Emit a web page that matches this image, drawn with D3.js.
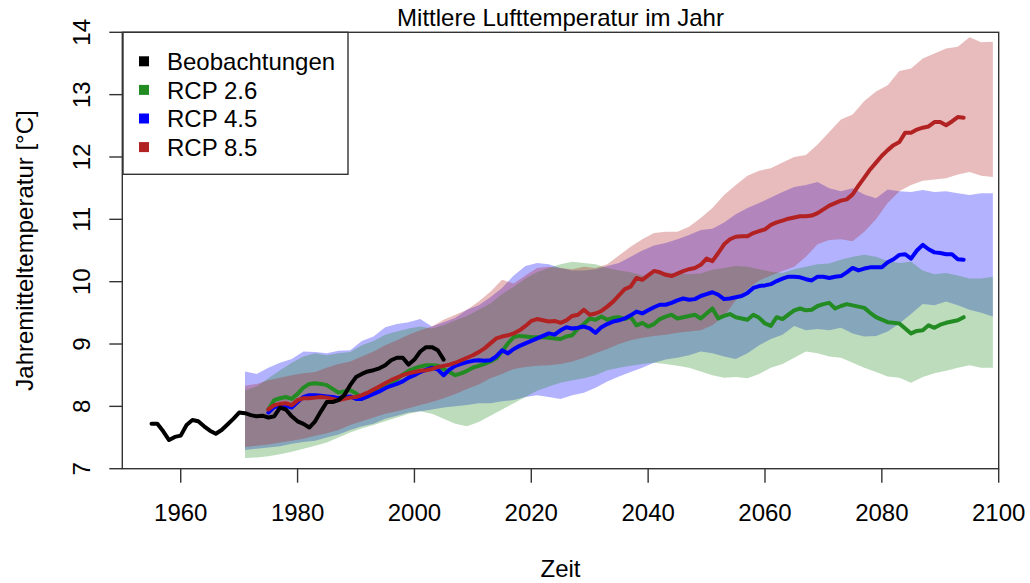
<!DOCTYPE html>
<html>
<head>
<meta charset="utf-8">
<script src="https://cdn.jsdelivr.net/npm/d3@7"></script>
<style>
  html, body { margin: 0; padding: 0; background: #fff; overflow: hidden; }
  svg { display: block; font-family: "Liberation Sans", Arial, sans-serif; }
</style>
</head>
<body>
<div id="chart"></div>
<script>
// observations, yearly from 1955
const obsStart = 1955;
const obsValues = [7.72, 7.72, 7.60, 7.46, 7.51, 7.53, 7.70, 7.78, 7.76, 7.68,
  7.61, 7.56, 7.62, 7.71, 7.80, 7.90, 7.89, 7.86, 7.84, 7.85,
  7.82, 7.84, 7.98, 7.95, 7.84, 7.76, 7.72, 7.66, 7.76, 7.92,
  8.07, 8.07, 8.10, 8.18, 8.34, 8.47, 8.52, 8.56, 8.58, 8.61,
  8.66, 8.74, 8.78, 8.78, 8.67, 8.75, 8.88, 8.95, 8.95, 8.90, 8.75];

// ensemble means, yearly from 1975
const meanStart = 1975;
const rcp26Mean = [7.95, 8.10, 8.13, 8.15, 8.12, 8.20, 8.30, 8.36, 8.37, 8.36,
  8.34, 8.28, 8.22, 8.24, 8.26, 8.21, 8.13, 8.16, 8.24, 8.29,
  8.35, 8.38, 8.43, 8.51, 8.57, 8.61, 8.64, 8.66, 8.66, 8.65,
  8.60, 8.55, 8.50, 8.53, 8.57, 8.62, 8.65, 8.68, 8.72, 8.77,
  8.88, 9.01, 9.11, 9.13, 9.12, 9.11, 9.11, 9.11, 9.10, 9.09,
  9.08, 9.12, 9.14, 9.25, 9.32, 9.41, 9.39, 9.44, 9.39, 9.42,
  9.43, 9.40, 9.44, 9.30, 9.34, 9.28, 9.32, 9.40, 9.44, 9.47,
  9.41, 9.43, 9.45, 9.47, 9.41, 9.49, 9.57, 9.41, 9.45, 9.48,
  9.43, 9.41, 9.39, 9.47, 9.42, 9.33, 9.29, 9.43, 9.40, 9.47,
  9.54, 9.57, 9.54, 9.55, 9.61, 9.64, 9.66, 9.57, 9.61, 9.64,
  9.62, 9.60, 9.58, 9.50, 9.43, 9.39, 9.35, 9.34, 9.33, 9.25,
  9.17, 9.21, 9.22, 9.30, 9.26, 9.31, 9.34, 9.36, 9.38, 9.43];
const rcp45Mean = [7.90, 7.99, 8.00, 8.01, 7.98, 8.07, 8.15, 8.18, 8.18, 8.17,
  8.16, 8.15, 8.13, 8.15, 8.16, 8.12, 8.12, 8.16, 8.20, 8.24,
  8.29, 8.33, 8.36, 8.40, 8.46, 8.50, 8.55, 8.59, 8.62, 8.59,
  8.50, 8.59, 8.65, 8.68, 8.71, 8.73, 8.74, 8.73, 8.74, 8.80,
  8.90, 8.85, 8.92, 8.97, 9.01, 9.05, 9.09, 9.13, 9.17, 9.15,
  9.22, 9.27, 9.25, 9.26, 9.28, 9.25, 9.18, 9.27, 9.32, 9.36,
  9.38, 9.41, 9.46, 9.52, 9.49, 9.54, 9.59, 9.63, 9.63, 9.66,
  9.70, 9.73, 9.71, 9.72, 9.77, 9.80, 9.83, 9.79, 9.72, 9.73,
  9.75, 9.77, 9.82, 9.90, 9.93, 9.94, 9.96, 10.01, 10.05, 10.08,
  10.08, 10.07, 10.04, 10.02, 10.08, 10.08, 10.06, 10.08, 10.09, 10.15,
  10.22, 10.18, 10.21, 10.23, 10.23, 10.23, 10.31, 10.36, 10.43, 10.44,
  10.37, 10.50, 10.59, 10.52, 10.47, 10.46, 10.44, 10.44, 10.36, 10.35];
const rcp85Mean = [7.95, 8.02, 8.04, 8.05, 8.02, 8.10, 8.13, 8.13, 8.14, 8.15,
  8.14, 8.12, 8.10, 8.12, 8.14, 8.15, 8.18, 8.22, 8.27, 8.32,
  8.37, 8.42, 8.46, 8.50, 8.53, 8.55, 8.57, 8.58, 8.60, 8.63,
  8.65, 8.67, 8.70, 8.74, 8.78, 8.82, 8.87, 8.93, 9.01, 9.09,
  9.12, 9.14, 9.17, 9.22, 9.29, 9.37, 9.40, 9.38, 9.36, 9.37,
  9.34, 9.38, 9.45, 9.47, 9.55, 9.47, 9.49, 9.53, 9.60, 9.68,
  9.78, 9.88, 9.92, 10.06, 10.03, 10.10, 10.17, 10.15, 10.11, 10.09,
  10.13, 10.17, 10.20, 10.22, 10.27, 10.37, 10.33, 10.46, 10.60, 10.68,
  10.72, 10.73, 10.73, 10.78, 10.81, 10.84, 10.91, 10.95, 10.98, 11.01,
  11.03, 11.05, 11.05, 11.06, 11.10, 11.16, 11.22, 11.26, 11.30, 11.32,
  11.40, 11.54, 11.67, 11.80, 11.91, 12.02, 12.11, 12.19, 12.24, 12.39,
  12.39, 12.44, 12.47, 12.49, 12.56, 12.56, 12.51, 12.57, 12.64, 12.63];

// ensemble ranges, every second year from 1971 to 2099
const bandStart = 1971;
const bandStep = 2;
const rcp26Low = [7.17, 7.18, 7.20, 7.23, 7.27, 7.32, 7.37, 7.42, 7.50, 7.58,
  7.65, 7.70, 7.76, 7.82, 7.88, 7.92, 7.88, 7.80, 7.72, 7.68,
  7.75, 7.85, 7.95, 8.05, 8.15, 8.25, 8.32, 8.38, 8.42, 8.45,
  8.50, 8.58, 8.62, 8.65, 8.68, 8.70, 8.68, 8.65, 8.62, 8.56,
  8.50, 8.46, 8.47, 8.45, 8.52, 8.62, 8.68, 8.78, 8.88, 8.85,
  8.80, 8.78, 8.70, 8.62, 8.55, 8.48, 8.46, 8.38, 8.47, 8.53,
  8.57, 8.62, 8.66, 8.62, 8.62];
const rcp26High = [8.26, 8.32, 8.45, 8.58, 8.70, 8.80, 8.85, 8.82, 8.85, 8.87,
  8.98, 9.05, 9.15, 9.20, 9.25, 9.28, 9.25, 9.30, 9.38, 9.45,
  9.55, 9.65, 9.80, 9.92, 10.05, 10.15, 10.22, 10.28, 10.32, 10.30,
  10.28, 10.22, 10.18, 10.15, 10.10, 10.12, 10.15, 10.13, 10.12, 10.13,
  10.19, 10.22, 10.25, 10.24, 10.20, 10.16, 10.14, 10.20, 10.24, 10.28,
  10.29, 10.35, 10.40, 10.43, 10.40, 10.33, 10.30, 10.32, 10.18, 10.12,
  10.14, 10.10, 10.05, 10.05, 10.08];
const rcp45Low = [7.30, 7.32, 7.34, 7.36, 7.40, 7.43, 7.45, 7.50, 7.55, 7.62,
  7.68, 7.72, 7.80, 7.85, 7.90, 7.92, 7.95, 7.98, 8.00, 8.02,
  8.05, 8.05, 8.08, 8.10, 8.15, 8.18, 8.15, 8.12, 8.18, 8.22,
  8.30, 8.40, 8.48, 8.55, 8.62, 8.70, 8.75, 8.78, 8.82, 8.88,
  8.85, 8.80, 8.76, 8.85, 8.98, 9.08, 9.15, 9.29, 9.22, 9.24,
  9.22, 9.26, 9.17, 9.12, 9.13, 9.20, 9.33, 9.48, 9.64, 9.62,
  9.68, 9.62, 9.55, 9.50, 9.44];
const rcp45High = [8.56, 8.52, 8.62, 8.70, 8.76, 8.88, 8.87, 8.85, 8.89, 8.90,
  9.05, 9.12, 9.27, 9.32, 9.35, 9.40, 9.28, 9.35, 9.42, 9.55,
  9.62, 9.75, 9.90, 10.10, 10.25, 10.30, 10.28, 10.22, 10.18, 10.18,
  10.20, 10.25, 10.30, 10.40, 10.50, 10.58, 10.62, 10.68, 10.75, 10.83,
  10.85, 10.95, 11.08, 11.18, 11.26, 11.35, 11.44, 11.52, 11.55, 11.60,
  11.50, 11.45, 11.50, 11.40, 11.34, 11.48, 11.45, 11.44, 11.47, 11.44,
  11.45, 11.42, 11.39, 11.42, 11.42];
const rcp85Low = [7.35, 7.37, 7.39, 7.42, 7.45, 7.48, 7.53, 7.57, 7.62, 7.70,
  7.76, 7.82, 7.88, 7.92, 7.97, 8.02, 8.07, 8.13, 8.20, 8.28,
  8.35, 8.45, 8.52, 8.60, 8.63, 8.65, 8.66, 8.68, 8.72, 8.78,
  8.85, 8.92, 9.00, 9.06, 9.10, 9.13, 9.15, 9.18, 9.20, 9.22,
  9.30, 9.45, 9.70, 9.88, 10.02, 10.10, 10.17, 10.24, 10.40, 10.60,
  10.67, 10.68, 10.65, 10.80, 11.00, 11.26, 11.45, 11.55, 11.62, 11.64,
  11.66, 11.72, 11.76, 11.70, 11.68];
const rcp85High = [8.33, 8.36, 8.42, 8.46, 8.50, 8.53, 8.55, 8.62, 8.68, 8.72,
  8.80, 8.88, 8.98, 9.06, 9.15, 9.22, 9.28, 9.39, 9.47, 9.55,
  9.68, 9.84, 10.03, 9.97, 10.10, 10.22, 10.24, 10.22, 10.20, 10.24,
  10.22, 10.28, 10.42, 10.56, 10.68, 10.78, 10.80, 10.80, 10.88, 11.02,
  11.18, 11.39, 11.55, 11.70, 11.78, 11.82, 11.91, 12.00, 12.03, 12.20,
  12.40, 12.60, 12.68, 12.90, 13.05, 13.15, 13.38, 13.42, 13.58, 13.66,
  13.74, 13.77, 13.92, 13.84, 13.85];

const xTicks = [1960, 1980, 2000, 2020, 2040, 2060, 2080, 2100];
const yTicks = [7, 8, 9, 10, 11, 12, 13, 14];
const legendLabels = ["Beobachtungen", "RCP 2.6", "RCP 4.5", "RCP 8.5"];
const legendColors = ["#000000", "#228B22", "#0000FF", "#B22222"];

const width = 1030;
const height = 583;
const margin = { top: 32.3, right: 31.3, bottom: 114.3, left: 122.3 };
const innerWidth = width - margin.left - margin.right;
const innerHeight = height - margin.top - margin.bottom;

const svg = d3.select("#chart")
  .append("svg")
  .attr("width", width)
  .attr("height", height)
  .attr("viewBox", `0 0 ${width} ${height}`);

const chart = svg.append("g")
  .attr("transform", `translate(${margin.left},${margin.top})`);

const x = d3.scaleLinear().domain([1950, 2100]).range([0, innerWidth]);
const y = d3.scaleLinear().domain([7, 14]).range([innerHeight, 0]);

const toSeries = (start, step, values) => values.map((v, i) => ({ year: start + i * step, v }));
const toBand = (low, high) => low.map((lo, i) => ({ year: bandStart + i * bandStep, lo, hi: high[i] }));

const area = d3.area()
  .x((d) => x(d.year))
  .y0((d) => y(d.lo))
  .y1((d) => y(d.hi));

const line = d3.line()
  .x((d) => x(d.year))
  .y((d) => y(d.v));

// centre a text on cx by its measured length (start anchor)
function centreText(sel, cx) {
  sel.attr("x", function () {
    return cx - this.getComputedTextLength() / 2;
  });
}

// ensemble ranges: blue first, green over it, red on top
const bands = [
  { data: toBand(rcp45Low, rcp45High), fill: "rgba(0,0,255,0.3)" },
  { data: toBand(rcp26Low, rcp26High), fill: "rgba(34,139,34,0.3)" },
  { data: toBand(rcp85Low, rcp85High), fill: "rgba(178,34,34,0.3)" }
];

bands.forEach((b) => {
  chart.append("path")
    .datum(b.data)
    .attr("d", area)
    .attr("fill", b.fill)
    .attr("stroke", "none");
});

const lines = [
  { data: toSeries(meanStart, 1, rcp26Mean), color: "#228B22" },
  { data: toSeries(meanStart, 1, rcp45Mean), color: "#0000FF" },
  { data: toSeries(meanStart, 1, rcp85Mean), color: "#B22222" },
  { data: toSeries(obsStart, 1, obsValues), color: "#000000" }
];

lines.forEach((l) => {
  chart.append("path")
    .datum(l.data)
    .attr("d", line)
    .attr("fill", "none")
    .attr("stroke", l.color)
    .attr("stroke-width", 4)
    .attr("stroke-linejoin", "round")
    .attr("stroke-linecap", "round");
});

// box
chart.append("rect")
  .attr("x", 0)
  .attr("y", 0)
  .attr("width", innerWidth)
  .attr("height", innerHeight)
  .attr("fill", "none")
  .attr("stroke", "#333")
  .attr("stroke-width", 1.4);

// x axis
const xAxis = svg.append("g");
xAxis.selectAll("line")
  .data(xTicks)
  .enter()
  .append("line")
  .attr("x1", (d) => margin.left + x(d))
  .attr("x2", (d) => margin.left + x(d))
  .attr("y1", margin.top + innerHeight)
  .attr("y2", margin.top + innerHeight + 14)
  .attr("stroke", "#333")
  .attr("stroke-width", 1.4);
xAxis.selectAll("text")
  .data(xTicks)
  .enter()
  .append("text")
  .attr("y", margin.top + innerHeight + 52.5)
  .attr("font-size", 24)
  .text((d) => d)
  .each(function (d) {
    centreText(d3.select(this), margin.left + x(d));
  });

// y axis, labels turned like R's las = 0
const yAxis = svg.append("g");
yAxis.selectAll("line")
  .data(yTicks)
  .enter()
  .append("line")
  .attr("x1", margin.left - 13)
  .attr("x2", margin.left)
  .attr("y1", (d) => margin.top + y(d))
  .attr("y2", (d) => margin.top + y(d))
  .attr("stroke", "#333")
  .attr("stroke-width", 1.4);
yAxis.selectAll("text")
  .data(yTicks)
  .enter()
  .append("text")
  .attr("x", 90)
  .attr("y", (d) => margin.top + y(d))
  .attr("transform", (d) => `rotate(-90, 90, ${margin.top + y(d)})`)
  .attr("text-anchor", "middle")
  .attr("font-size", 24)
  .text((d) => d);

// titles
svg.append("text")
  .attr("y", 26)
  .attr("font-size", 24)
  .text("Mittlere Lufttemperatur im Jahr")
  .call(centreText, margin.left + innerWidth / 2);

svg.append("text")
  .attr("y", 577)
  .attr("font-size", 24)
  .text("Zeit")
  .call(centreText, margin.left + innerWidth / 2);

const yTitleY = margin.top + innerHeight / 2;
svg.append("text")
  .attr("x", 33)
  .attr("y", yTitleY)
  .attr("transform", `rotate(-90, 33, ${yTitleY})`)
  .attr("text-anchor", "middle")
  .attr("font-size", 24)
  .text("Jahremitteltemperatur [°C]");

// legend
const legend = chart.append("g").attr("transform", "translate(0.7,0)");
legend.append("rect")
  .attr("x", 0)
  .attr("y", 0)
  .attr("width", 225)
  .attr("height", 142)
  .attr("fill", "#fff")
  .attr("stroke", "#333")
  .attr("stroke-width", 1.4);

const items = legend.selectAll("g.item")
  .data(legendLabels)
  .enter()
  .append("g")
  .attr("class", "item")
  .attr("transform", (d, i) => `translate(0,${29 + i * 28.6})`);

items.append("rect")
  .attr("x", 16)
  .attr("y", -5)
  .attr("width", 10)
  .attr("height", 10)
  .attr("fill", (d, i) => legendColors[i]);

items.append("text")
  .attr("x", 44)
  .attr("y", 8.6)
  .attr("font-size", 24)
  .text((d) => d);
</script>
</body>
</html>
